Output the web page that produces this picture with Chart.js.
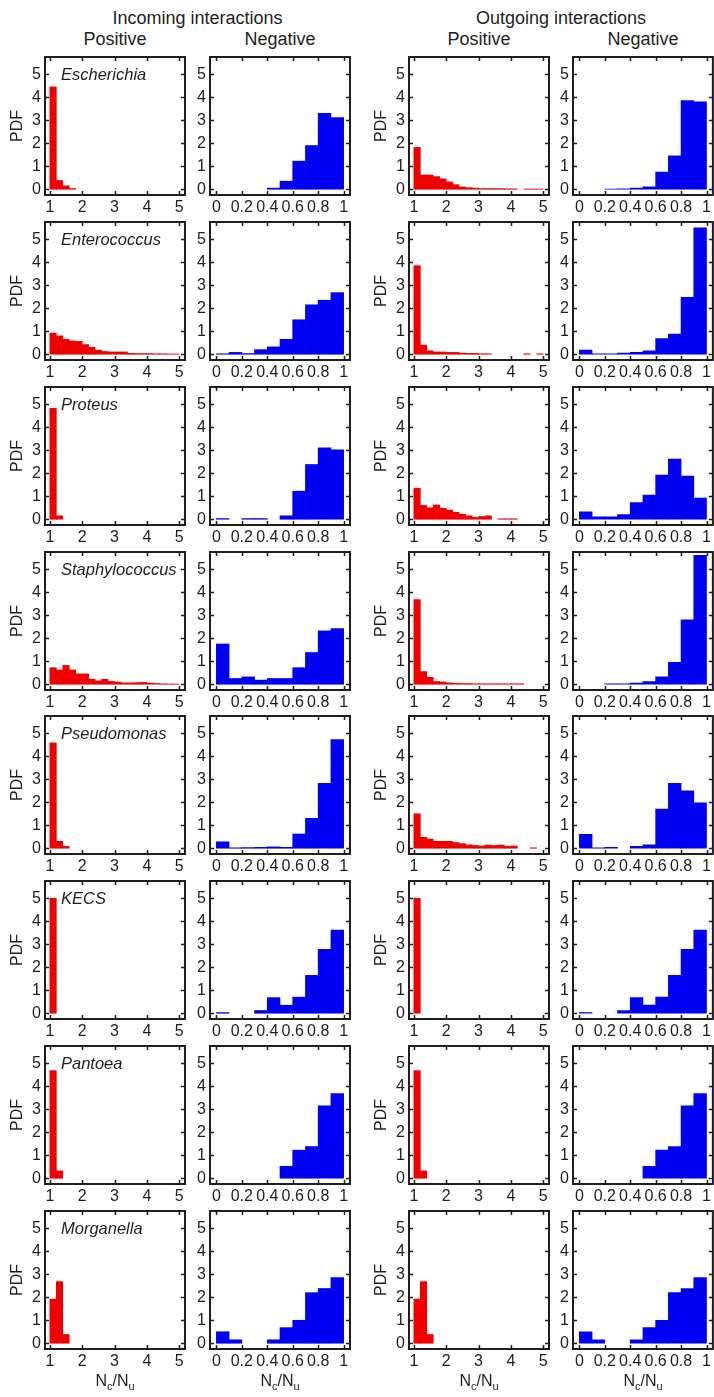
<!DOCTYPE html>
<html><head><meta charset="utf-8">
<script src="https://cdn.jsdelivr.net/npm/chart.js@4.4.1/dist/chart.umd.min.js"></script>
<style>
html,body{margin:0;padding:0;background:#fff;overflow:hidden;}
body{width:714px;height:1397px;position:relative;font-family:"Liberation Sans",Arial,sans-serif;color:#1e1e1e;}
canvas{position:absolute;}
.hd{position:absolute;font-size:18px;line-height:18px;text-align:center;white-space:nowrap;}
.sp{position:absolute;font-style:italic;font-size:16.5px;line-height:16px;white-space:nowrap;}
.xl{position:absolute;font-size:16px;line-height:16px;text-align:center;white-space:nowrap;}
.xl span{font-size:11px;position:relative;top:4px;}
</style></head><body>
<script>
// ---------------- data ----------------
const SPECIES = ["Escherichia","Enterococcus","Proteus","Staphylococcus","Pseudomonas","KECS","Pantoea","Morganella"];
const POS_BIN_START = 1, POS_BIN_WIDTH = 0.2;   // positive: Nc/Nu bins from 1
const NEG_BIN_START = 0, NEG_BIN_WIDTH = 0.1;   // negative: Nc/Nu bins from 0
const POS_TICKS = [1,2,3,4,5];
const POS_TICK_LABELS = ["1","2","3","4","5"];
const NEG_TICKS = [0,0.2,0.4,0.6,0.8,1];
const NEG_TICK_LABELS = ["0","0.2","0.4","0.6","0.8","1"];
const PDF_TICKS = [0,1,2,3,4,5];
const PDF_TICK_LABELS = ["0","1","2","3","4","5"];

// PDF per bin, incoming interactions, positive (bins 1.0-1.2, 1.2-1.4, ...)
const incomingPositive = [
  [4.45,0.38,0.15,0.03],
  [0.92,0.8,0.65,0.58,0.56,0.42,0.3,0.18,0.12,0.1,0.1,0.1,0.04,0.03,0.03,0.03,0.02,0.02,0.01,0.01],
  [4.82,0.15],
  [0.72,0.62,0.82,0.62,0.45,0.45,0.22,0.15,0.22,0.12,0.1,0.06,0.06,0.07,0.08,0.05,0.03,0.02,0.01,0.01],
  [4.58,0.3,0.08],
  [5.0,0],
  [4.68,0.32],
  [1.92,2.68,0.38]
];
// incoming interactions, negative (bins 0-0.1, 0.1-0.2, ... 0.9-1)
const incomingNegative = [
  [0,0,0,0,0.05,0.35,1.22,1.9,3.3,3.12],
  [0.02,0.08,0.03,0.2,0.32,0.65,1.5,2.15,2.35,2.68],
  [0.03,0,0.03,0.03,0,0.15,1.22,2.38,3.1,3.02],
  [1.75,0.25,0.32,0.18,0.25,0.25,0.72,1.38,2.32,2.42],
  [0.28,0.02,0.03,0.04,0.06,0.04,0.62,1.3,2.82,4.72],
  [0.03,0,0,0.12,0.68,0.35,0.7,1.65,2.78,3.62],
  [0,0,0,0,0,0.52,1.22,1.38,3.15,3.68],
  [0.5,0.15,0,0,0.15,0.68,1.0,2.2,2.38,2.85]
];
// outgoing interactions, positive
const outgoingPositive = [
  [1.82,0.62,0.62,0.55,0.45,0.32,0.2,0.1,0.07,0.05,0.03,0.03,0.03,0.03,0.02,0.02,0,0.01,0.01,0.01],
  [3.85,0.4,0.15,0.1,0.1,0.08,0.08,0.05,0.04,0.04,0.02,0.02,0,0,0,0,0,0.02,0,0.02],
  [1.35,0.6,0.5,0.62,0.48,0.4,0.3,0.22,0.15,0.08,0.12,0.15,0,0.02,0.02,0.02],
  [3.68,0.55,0.3,0.12,0.1,0.06,0.04,0.03,0.03,0.02,0.02,0.02,0.02,0.02,0.02,0.02,0.02],
  [1.5,0.48,0.4,0.3,0.3,0.3,0.25,0.2,0.15,0.12,0.1,0.14,0.12,0.14,0.08,0.1,0,0,0.02],
  [5.0,0],
  [4.68,0.32],
  [1.92,2.68,0.38]
];
// outgoing interactions, negative
const outgoingNegative = [
  [0,0,0.01,0.02,0.05,0.1,0.75,1.45,3.85,3.8],
  [0.18,0.02,0.02,0.05,0.08,0.15,0.68,0.88,2.48,5.5],
  [0.32,0.1,0.1,0.2,0.72,1.05,1.92,2.62,1.88,0.92],
  [0,0,0.02,0.02,0.05,0.12,0.32,0.95,2.8,5.6],
  [0.6,0.02,0.04,0,0.08,0.15,1.7,2.82,2.5,1.98],
  [0.03,0,0,0.12,0.68,0.35,0.7,1.65,2.78,3.62],
  [0,0,0,0,0,0.52,1.22,1.38,3.15,3.68],
  [0.5,0.15,0,0,0.15,0.68,1.0,2.2,2.38,2.85]
];

// ---------------- layout / style ----------------
const FONT = '"Liberation Sans", Arial, sans-serif';
const INK = '#1e1e1e';
const RED = '#f00000';
const BLUE = '#0000f2';
const COL_LEFT = [45, 210, 409, 573];
const BOX_W = 140, BOX_H = 138;
const ROW_TOP0 = 57, ROW_PITCH = 164.86;
const Y_MIN = -0.25, Y_MAX = 5.75;

const framePlugin = {
  id: 'frame',
  afterDraw(chart) {
    const {ctx, chartArea: a, scales: {x, y}} = chart;
    ctx.save();
    ctx.strokeStyle = INK;
    ctx.lineWidth = 1.5;
    ctx.beginPath();
    const TL = 4;
    x.ticks.forEach(t => {
      const px = Math.round(x.getPixelForValue(t.value)) + 0.5;
      ctx.moveTo(px, a.bottom); ctx.lineTo(px, a.bottom - TL);
      ctx.moveTo(px, a.top); ctx.lineTo(px, a.top + TL);
    });
    y.ticks.forEach(t => {
      const py = Math.round(y.getPixelForValue(t.value)) + 0.5;
      ctx.moveTo(a.left, py); ctx.lineTo(a.left + TL, py);
      ctx.moveTo(a.right, py); ctx.lineTo(a.right - TL, py);
    });
    ctx.stroke();
    ctx.lineWidth = 2;
    ctx.strokeRect(a.left, a.top, a.right - a.left, a.bottom - a.top);
    ctx.restore();
  }
};

function makePanel(row, col, values, isPos) {
  const lw = (col === 0 || col === 2) ? 45 : 30;
  const padR = col === 3 ? 1 : 6;
  const padT = 16, bh = 24;
  const top = Math.round(ROW_TOP0 + row * ROW_PITCH);
  const left = COL_LEFT[col];
  const W = lw + BOX_W + padR, H = padT + BOX_H + bh;
  const cv = document.createElement('canvas');
  cv.width = W; cv.height = H;
  cv.style.left = (left - lw) + 'px'; cv.style.top = (top - padT) + 'px';
  cv.style.width = W + 'px'; cv.style.height = H + 'px';
  document.body.appendChild(cv);
  const start = isPos ? POS_BIN_START : NEG_BIN_START;
  const w = isPos ? POS_BIN_WIDTH : NEG_BIN_WIDTH;
  const data = values.map((v, i) => ({x: start + (i + 0.5) * w, y: v === 0 ? null : v}));
  const xt = isPos ? POS_TICKS : NEG_TICKS;
  const xl = isPos ? POS_TICK_LABELS : NEG_TICK_LABELS;
  const tickFont = {size: 16, family: FONT};
  new Chart(cv, {
    type: 'bar',
    data: {datasets: [{data, backgroundColor: isPos ? RED : BLUE, borderWidth: 0,
      barPercentage: 1, categoryPercentage: 1}]},
    options: {
      responsive: false, animation: false, devicePixelRatio: 1, events: [],
      layout: {padding: {top: padT, right: padR, left: 0, bottom: 0}},
      plugins: {legend: {display: false}, tooltip: {enabled: false}},
      scales: {
        x: {
          type: 'linear', min: isPos ? 0.85 : -0.05, max: isPos ? 5.18 : 1.05,
          offset: false, grid: {display: false, drawTicks: false, offset: false}, border: {display: false},
          ticks: {autoSkip: false, maxRotation: 0, minRotation: 0, padding: 3, color: INK, font: tickFont,
            callback: (v, i) => xl[i]},
          afterBuildTicks: s => { s.ticks = xt.map(v => ({value: v})); },
          afterFit: s => { s.height = bh; }
        },
        y: {
          type: 'linear', min: Y_MIN, max: Y_MAX,
          grid: {display: false, drawTicks: false}, border: {display: false},
          ticks: {autoSkip: false, padding: 4, color: INK, font: tickFont,
            callback: (v, i) => PDF_TICK_LABELS[i]},
          title: {display: lw === 45, text: 'PDF', color: INK, font: {size: 16, family: FONT},
            padding: {top: 8, bottom: 0}},
          afterBuildTicks: s => { s.ticks = PDF_TICKS.map(v => ({value: v})); },
          afterFit: s => { s.width = lw; }
        }
      }
    },
    plugins: [framePlugin]
  });
}

function addDiv(cls, html, left, top, width) {
  const d = document.createElement('div');
  d.className = cls; d.innerHTML = html;
  d.style.left = left + 'px'; d.style.top = top + 'px';
  if (width) d.style.width = width + 'px';
  document.body.appendChild(d);
}

// headers
addDiv('hd', 'Incoming interactions', 45, 9, 305);
addDiv('hd', 'Outgoing interactions', 409, 9, 304);
addDiv('hd', 'Positive', 45, 30, 140);
addDiv('hd', 'Negative', 210, 30, 140);
addDiv('hd', 'Positive', 409, 30, 140);
addDiv('hd', 'Negative', 573, 30, 140);

SPECIES.forEach((name, r) => {
  makePanel(r, 0, incomingPositive[r], true);
  makePanel(r, 1, incomingNegative[r], false);
  makePanel(r, 2, outgoingPositive[r], true);
  makePanel(r, 3, outgoingNegative[r], false);
  const top = Math.round(ROW_TOP0 + r * ROW_PITCH);
  addDiv('sp', name, 61, top + 9);
});

// x-axis titles (bottom row)
COL_LEFT.forEach(l => addDiv('xl', 'N<span>c</span>/N<span>u</span>', l, 1373, BOX_W));
</script>
</body></html>
